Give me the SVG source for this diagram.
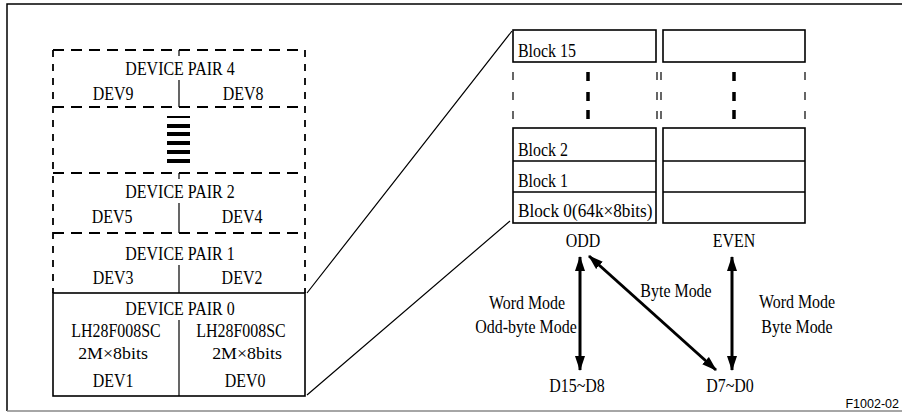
<svg xmlns="http://www.w3.org/2000/svg" width="902" height="416" viewBox="0 0 902 416">
<defs>
<style>
text{font-family:"Liberation Serif","Times New Roman",serif;font-size:19px;fill:#000;transform-box:fill-box;transform-origin:center;transform:scaleX(0.84)}
text.l{transform-origin:left center}
.m{text-anchor:middle}
.frame{fill:none;stroke:#000;stroke-width:1.5}
.dh{fill:none;stroke:#000;stroke-width:1.8;stroke-dasharray:11 7}
.dv{fill:none;stroke:#000;stroke-width:1.8;stroke-dasharray:7 7}
.solid{fill:none;stroke:#000;stroke-width:1.6}
.thin{fill:none;stroke:#000;stroke-width:1.2}
.bar{fill:#000}
.arr{stroke:#000;stroke-width:3;fill:none}
</style>
<marker id="ah" viewBox="0 0 15 10" refX="14" refY="5" markerWidth="5" markerHeight="3.4" orient="auto-start-reverse" markerUnits="strokeWidth">
<path d="M0,0 L15,5 L0,10 z" fill="#000"/>
</marker>
</defs>
<rect width="902" height="416" fill="#fff"/>
<g id="border">
<path d="M902,4 H7 V411" class="frame"/>
<path d="M7,411 H902" fill="none" stroke="#888" stroke-width="1.5"/>
</g>
<g id="device-stack">
<path d="M53,50 H305 M53,107 H305 M53,173 H305 M53,233 H305" class="dh"/>
<path d="M53,50 V293 M305,50 V293" class="dv"/>
</g>
<g id="pair4">
<text x="180" y="75" class="m">DEVICE PAIR 4</text>
<text x="113" y="100" class="m">DEV9</text>
<text x="243" y="100" class="m">DEV8</text>
<path d="M179,50 V56 M179,80 V107" class="thin"/>
</g>
<g id="pair-ellipsis">
<rect x="167" y="116" width="23" height="2" class="bar"/>
<rect x="167" y="124" width="23" height="4" class="bar"/>
<rect x="167" y="132" width="23" height="4" class="bar"/>
<rect x="167" y="141" width="23" height="4" class="bar"/>
<rect x="167" y="150" width="23" height="4" class="bar"/>
<rect x="167" y="159" width="23" height="4" class="bar"/>
<path d="M179,173 V179" class="thin"/>
</g>
<g id="pair2">
<text x="180" y="198" class="m">DEVICE PAIR 2</text>
<text x="112" y="223" class="m">DEV5</text>
<text x="242" y="223" class="m">DEV4</text>
<path d="M179,203 V233" class="thin"/>
</g>
<g id="pair1">
<text x="180" y="260" class="m">DEVICE PAIR 1</text>
<text x="113" y="284" class="m">DEV3</text>
<text x="242" y="284" class="m">DEV2</text>
<path d="M179,265 V293" class="thin"/>
</g>
<g id="pair0">
<rect x="53" y="293" width="252" height="103" class="solid"/>
<path d="M179,320 V396" class="thin"/>
<text x="180" y="315" class="m">DEVICE PAIR 0</text>
<text x="116" y="337" class="m">LH28F008SC</text>
<text x="241" y="337" class="m">LH28F008SC</text>
<text x="113" y="359" class="m" style="font-size:17px" textLength="83" lengthAdjust="spacingAndGlyphs">2M×8bits</text>
<text x="247" y="359" class="m" style="font-size:17px" textLength="83" lengthAdjust="spacingAndGlyphs">2M×8bits</text>
<text x="113" y="387" class="m">DEV1</text>
<text x="245" y="387" class="m">DEV0</text>
</g>
<g id="odd-column">
<rect x="513" y="30" width="143" height="32" class="solid"/>
<text x="518" y="57" class="l">Block 15</text>
<path d="M513,72 V80 M513,92 V100 M513,111 V119 M657,72 V80 M657,92 V100 M657,111 V119" class="thin"/>
<path d="M588,72 V81 M588,92 V101 M588,110 V119" stroke="#000" stroke-width="3.5"/>
<rect x="513" y="128" width="143" height="95" class="solid"/>
<path d="M513,161 H656 M513,192 H656" class="solid"/>
<text x="518" y="156" class="l">Block 2</text>
<text x="518" y="187" class="l">Block 1</text>
<text x="518" y="217" class="l" textLength="160" lengthAdjust="spacingAndGlyphs">Block 0(64k×8bits)</text>
<text x="583" y="247" class="m">ODD</text>
</g>
<g id="even-column">
<rect x="663" y="30" width="142" height="32" class="solid"/>
<path d="M661,72 V80 M661,92 V100 M661,111 V119 M805,72 V80 M805,92 V100 M805,111 V119" class="thin"/>
<path d="M734,72 V81 M734,92 V101 M734,110 V119" stroke="#000" stroke-width="3.5"/>
<rect x="663" y="128" width="142" height="95" class="solid"/>
<path d="M663,161 H805 M663,192 H805" class="solid"/>
<text x="734" y="247" class="m">EVEN</text>
</g>
<g id="bus-labels">
<text x="527" y="309" class="m">Word Mode</text>
<text x="526" y="333" class="m">Odd-byte Mode</text>
<text x="676" y="297" class="m">Byte Mode</text>
<text x="797" y="308" class="m">Word Mode</text>
<text x="797" y="333" class="m">Byte Mode</text>
<text x="577" y="392" class="m">D15~D8</text>
<text x="730" y="392" class="m">D7~D0</text>
</g>
<g id="connectors">
<path d="M307,293 L512,31 M307,395 L510,221" class="thin"/>
<path d="M580,257 V370" class="arr" marker-start="url(#ah)" marker-end="url(#ah)"/>
<path d="M732,257 V370" class="arr" marker-start="url(#ah)" marker-end="url(#ah)"/>
<path d="M589,256 L716,370" class="arr" marker-start="url(#ah)" marker-end="url(#ah)"/>
</g>
<text x="899" y="408" text-anchor="end" style="font-family:'Liberation Sans',Arial,sans-serif;font-size:12.5px;transform:none">F1002-02</text>
</svg>
